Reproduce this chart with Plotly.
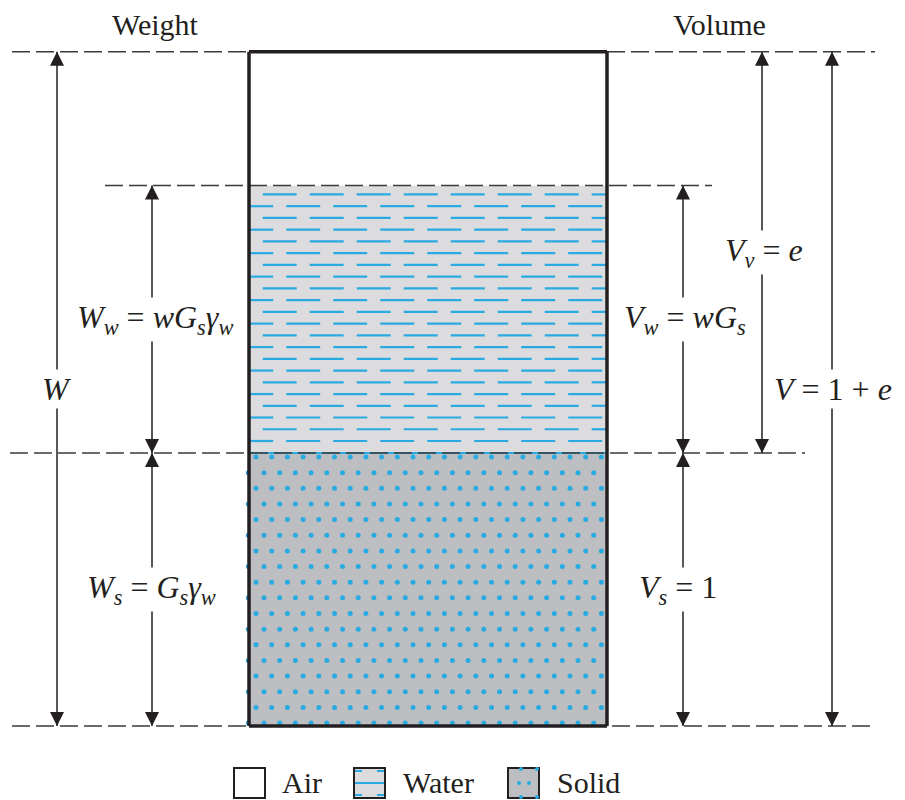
import numpy as np
import plotly.graph_objects as go

# ---------------- data ----------------
phases = ["Solid", "Water", "Air"]          # bottom -> top
phase_volume = [1.00, 0.98, 0.49]           # Vs = 1, Vw = wGs, Va
phase_fill = ["#bdbec1", "#dcdcde", "#ffffff"]
legend_names = ["Air", "Water", "Solid"]
header_labels = ["Weight", "Volume"]

# ---------------- geometry (page pixels for x; volume units for y) ----------------
W_PX, H_PX = 905, 800
OFF = 8              # page body margin
S = 273.0            # px per unit of volume
Y0 = 726.0           # page row of volume 0
BOX_L, BOX_R = 249, 607
INK = "#231f20"
BLUE = "#29abe2"
FONT = "Liberation Serif"

def vy(p):  # page row -> volume units
    return (Y0 - p) / S

def py(p):  # page row -> paper
    return 1 - (p - OFF) / H_PX

tops = np.cumsum(phase_volume)
bots = tops - np.array(phase_volume)
v_s, v_w, v_top = tops[0], tops[1], tops[2]

fig = go.Figure()
shapes = []
annotations = []

# phase fills
for b, t, c in zip(bots, tops, phase_fill):
    shapes.append(dict(type="rect", xref="x", yref="y", x0=BOX_L, x1=BOX_R, y0=b, y1=t,
                       fillcolor=c, line_width=0, layer="below"))

# water texture: staggered blue dashes
xs, ys = [], []
row_top_px, row_bot_px = Y0 - v_w * S + 9, Y0 - v_s * S - 12
nrows = 22
for r in range(nrows):
    yp = row_top_px + r * (row_bot_px - row_top_px) / (nrows - 1)
    start = 262.7 if r % 2 == 0 else 262.7 - 23.5
    x = start - 47
    while x < BOX_R:
        a, b = max(x, BOX_L + 1), min(x + 34, BOX_R - 1)
        if b > a:
            xs += [a, b, None]
            ys += [vy(yp), vy(yp), None]
        x += 47
fig.add_trace(go.Scatter(x=xs, y=ys, mode="lines", line=dict(color=BLUE, width=2.2),
                         hoverinfo="skip", showlegend=False))

# solid texture: staggered blue dots
dx, dy = [], []
for r in range(18):
    yp = 457 + r * 15.65
    x = 256.0 if r % 2 == 0 else 248.3
    while x < BOX_R:
        dx.append(x); dy.append(vy(yp))
        x += 15.7
fig.add_trace(go.Scatter(x=dx, y=dy, mode="markers",
                         marker=dict(color=BLUE, size=5, line_width=0),
                         hoverinfo="skip", showlegend=False))

# blue line along the solid top
shapes.append(dict(type="line", xref="x", yref="y", x0=BOX_L, x1=BOX_R, y0=v_s, y1=v_s,
                   line=dict(color=BLUE, width=2)))

# dashed reference lines
dash = "18px,6px"
def hdash(x0, x1, v):
    shapes.append(dict(type="line", xref="x", yref="y", x0=x0, x1=x1, y0=v, y1=v,
                       line=dict(color="#3a3a3a", width=1.6, dash=dash)))
hdash(12, BOX_L, v_top)
hdash(BOX_R, 875, v_top)
hdash(105, 712, v_w)
hdash(10, 805, v_s)
hdash(12, 875, 0)

# box outline
for (x0, y0, x1, y1) in [(BOX_L, 0, BOX_L, v_top), (BOX_R, 0, BOX_R, v_top),
                         (BOX_L, v_top, BOX_R, v_top), (BOX_L, 0, BOX_R, 0)]:
    shapes.append(dict(type="line", xref="x", yref="y", x0=x0, y0=y0, x1=x1, y1=y1,
                       line=dict(color=INK, width=3.5)))

# dimension arrows
arrow_specs = [
    (57, 0, v_top, "<i>W</i>", 57),
    (152, v_s, v_w, "<i>W</i><sub><i>w</i></sub> = <i>wG</i><sub><i>s</i></sub><i>γ</i><sub><i>w</i></sub>", 155),
    (152, 0, v_s, "<i>W</i><sub><i>s</i></sub> = <i>G</i><sub><i>s</i></sub><i>γ</i><sub><i>w</i></sub>", 151),
    (683, v_s, v_w, "<i>V</i><sub><i>w</i></sub> = <i>wG</i><sub><i>s</i></sub>", 685),
    (683, 0, v_s, "<i>V</i><sub><i>s</i></sub> = 1", 678),
    (762, v_s, v_top, "<i>V</i><sub><i>v</i></sub> = <i>e</i>", 764),
    (832, 0, v_top, "<i>V</i> = 1 + <i>e</i>", 833),
]
sx, sy = [], []
ux, uy, dnx, dny = [], [], [], []
for x, a, b, _, _ in arrow_specs:
    sx += [x, x, None]
    sy += [a, b, None]
    ux.append(x); uy.append(b)      # up-pointing head at top end
    dnx.append(x); dny.append(a)    # down-pointing head at bottom end
fig.add_trace(go.Scatter(x=sx, y=sy, mode="lines", line=dict(color=INK, width=1.5),
                         hoverinfo="skip", showlegend=False))
fig.add_trace(go.Scatter(x=ux, y=uy, mode="markers",
                         marker=dict(symbol="arrow-up", size=14, color=INK, line_width=0),
                         hoverinfo="skip", showlegend=False))
fig.add_trace(go.Scatter(x=dnx, y=dny, mode="markers",
                         marker=dict(symbol="arrow-down", size=14, color=INK, line_width=0),
                         hoverinfo="skip", showlegend=False))

for x, a, b, txt, lx in arrow_specs:
    annotations.append(dict(x=lx, y=(a + b) / 2, xref="x", yref="y", text=txt,
                            showarrow=False, bgcolor="white", borderpad=1,
                            font=dict(family=FONT, size=32, color=INK),
                            xanchor="center", yanchor="middle"))

# headers
for txt, xc in zip(header_labels, [155, 719]):
    annotations.append(dict(x=xc, y=py(25), xref="x", yref="paper", text=txt,
                            showarrow=False, font=dict(family=FONT, size=30, color=INK),
                            xanchor="center", yanchor="middle"))

# legend
leg_box_x = [234, 354, 508]
leg_text_x = [280, 401, 555]
leg_fill = {"Air": "#ffffff", "Water": phase_fill[1], "Solid": phase_fill[0]}
ly0, ly1 = 768, 798
for name, bx, tx in zip(legend_names, leg_box_x, leg_text_x):
    shapes.append(dict(type="rect", xref="x", yref="paper", x0=bx, x1=bx + 31,
                       y0=py(ly1), y1=py(ly0), fillcolor=leg_fill[name],
                       line=dict(color=INK, width=2)))
    if name == "Water":
        for (a, b, yy) in [(bx + 1, bx + 30, 783), (bx + 1, bx + 8, 771), (bx + 23, bx + 30, 771),
                           (bx + 1, bx + 8, 795), (bx + 23, bx + 30, 795)]:
            shapes.append(dict(type="line", xref="x", yref="paper", x0=a, x1=b,
                               y0=py(yy), y1=py(yy), line=dict(color=BLUE, width=2)))
    if name == "Solid":
        for (cx, cy) in [(bx + 11, 783), (bx + 21, 783), (bx + 13, 769), (bx + 29, 769),
                         (bx + 13, 797), (bx + 29, 797)]:
            shapes.append(dict(type="circle", xref="x", yref="paper", x0=cx - 2, x1=cx + 2,
                               y0=py(cy + 2), y1=py(cy - 2), fillcolor=BLUE, line_width=0))
    annotations.append(dict(x=tx, y=py(782), xref="x", yref="paper", text=name,
                            showarrow=False, font=dict(family=FONT, size=30, color=INK),
                            xanchor="left", yanchor="middle"))

fig.update_layout(
    width=W_PX, height=H_PX, margin=dict(l=0, r=0, t=0, b=0),
    paper_bgcolor="white", plot_bgcolor="white",
    xaxis=dict(range=[OFF, W_PX + OFF], visible=False, fixedrange=True),
    yaxis=dict(range=[vy(H_PX + OFF), vy(OFF)], visible=False, fixedrange=True),
    shapes=shapes, annotations=annotations, showlegend=False,
)
fig.write_html("out.html")
